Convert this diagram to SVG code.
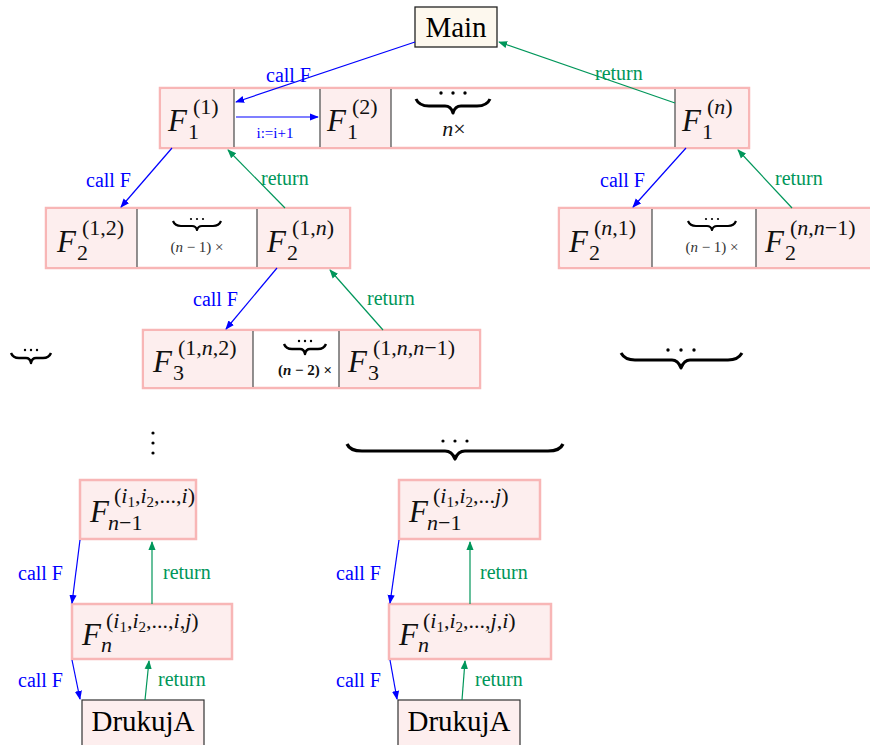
<svg xmlns="http://www.w3.org/2000/svg" width="870" height="745" viewBox="0 0 870 745">
<defs>
<marker id="ab" viewBox="0 0 10 10" refX="9" refY="5" markerWidth="9" markerHeight="9" markerUnits="userSpaceOnUse" orient="auto"><path d="M0,1 L10,5 L0,9 Z" fill="#0000ff"/></marker>
<marker id="ag" viewBox="0 0 10 10" refX="9" refY="5" markerWidth="9" markerHeight="9" markerUnits="userSpaceOnUse" orient="auto"><path d="M0,1 L10,5 L0,9 Z" fill="#00965a"/></marker>
</defs>
<style>
.outer{fill:#ffffff;stroke:#f8b6b6;stroke-width:2.5}
.cell{fill:#fdeeee;stroke:none}
.box{fill:#fdeeee;stroke:#f8b6b6;stroke-width:2.5}
.div{stroke:#555;stroke-width:1.3}
.F{font-family:"Liberation Serif",serif;font-style:italic;font-size:31px;fill:#111}
.sup{font-family:"Liberation Serif",serif;font-size:22px;fill:#111}
.sm{font-family:"Liberation Serif",serif;font-size:15px}
.it{font-style:italic}
.call{stroke:#0000ff;stroke-width:1.2;fill:none;marker-end:url(#ab)}
.ret{stroke:#00965a;stroke-width:1.2;fill:none;marker-end:url(#ag)}
.lb{font-family:"Liberation Serif",serif;font-size:20px;fill:#0000ff}
.lg{font-family:"Liberation Serif",serif;font-size:20px;fill:#00965a}
.inc{font-family:"Liberation Serif",serif;font-size:15px;fill:#0000ff}
.brace{fill:none;stroke:#000;stroke-width:2.6;stroke-linejoin:round}
.dot{fill:#000}
.big{font-family:"Liberation Serif",serif;font-size:29px;fill:#000}
.cnt{font-family:"Liberation Serif",serif;font-size:15px;fill:#333}
.cntb{font-family:"Liberation Serif",serif;font-size:15px;font-weight:bold;fill:#111}
</style>

<g id="main">
<rect x="415" y="7" width="82" height="40" fill="#fdf8ee" stroke="#222" stroke-width="1.3"/>
<text class="big" x="456" y="37" text-anchor="middle">Main</text>
</g>

<g id="row1">
<rect class="outer" x="160" y="88" width="589" height="60"/>
<rect class="cell" x="161.5" y="89.5" width="72.5" height="57"/>
<rect class="cell" x="320" y="89.5" width="71" height="57"/>
<rect class="cell" x="675" y="89.5" width="72.5" height="57"/>
<line class="div" x1="234" y1="89" x2="234" y2="147"/>
<line class="div" x1="320" y1="89" x2="320" y2="147"/>
<line class="div" x1="391" y1="89" x2="391" y2="147"/>
<line class="div" x1="675" y1="89" x2="675" y2="147"/>
<text class="F" x="168" y="131">F</text><text class="sup" x="193" y="114">(1)</text><text class="sup" x="188" y="139">1</text>
<text class="F" x="327" y="131">F</text><text class="sup" x="352" y="114">(2)</text><text class="sup" x="347" y="139">1</text>
<text class="F" x="682" y="131">F</text><text class="sup" x="707" y="114">(<tspan class="it">n</tspan>)</text><text class="sup" x="702" y="139">1</text>
<circle class="dot" cx="441" cy="93" r="1.7"/><circle class="dot" cx="453" cy="93" r="1.7"/><circle class="dot" cx="465" cy="93" r="1.7"/>
<path class="brace" style="stroke-width:3" d="M416,99 Q419,106 429,106 L445,106 Q451,106 453,113 Q455,106 461,106 L477,106 Q487,106 490,99"/>
<text class="sup" x="454" y="136" text-anchor="middle"><tspan class="it">n</tspan>×</text>
</g>

<g id="row2left">
<rect class="outer" x="46" y="208" width="304" height="60"/>
<rect class="cell" x="47.5" y="209.5" width="89.5" height="57"/>
<rect class="cell" x="257" y="209.5" width="91.5" height="57"/>
<line class="div" x1="137" y1="209" x2="137" y2="267"/>
<line class="div" x1="257" y1="209" x2="257" y2="267"/>
<text class="F" x="57" y="252">F</text><text class="sup" x="82" y="235">(1,2)</text><text class="sup" x="77" y="260">2</text>
<text class="F" x="267" y="252">F</text><text class="sup" x="292" y="235">(1,<tspan class="it">n</tspan>)</text><text class="sup" x="287" y="260">2</text>
<circle class="dot" cx="191" cy="219" r="1.1"/><circle class="dot" cx="197" cy="219" r="1.1"/><circle class="dot" cx="203" cy="219" r="1.1"/>
<path class="brace" style="stroke-width:2.2" d="M173,221 Q175,226 181,226 L192,226 Q196,226 197,230 Q198,226 202,226 L213,226 Q219,226 221,221"/>
<text class="cnt" x="197" y="252" text-anchor="middle">(<tspan class="it">n</tspan> − 1) ×</text>
</g>

<g id="row2right">
<rect class="outer" x="559" y="208" width="320" height="60"/>
<rect class="cell" x="560.5" y="209.5" width="91.5" height="57"/>
<rect class="cell" x="756" y="209.5" width="114" height="57"/>
<line class="div" x1="652" y1="209" x2="652" y2="267"/>
<line class="div" x1="756" y1="209" x2="756" y2="267"/>
<text class="F" x="569" y="252">F</text><text class="sup" x="594" y="235">(<tspan class="it">n</tspan>,1)</text><text class="sup" x="589" y="260">2</text>
<text class="F" x="765" y="252">F</text><text class="sup" x="790" y="235">(<tspan class="it">n</tspan>,<tspan class="it">n</tspan>−1)</text><text class="sup" x="785" y="260">2</text>
<circle class="dot" cx="706" cy="219" r="1.1"/><circle class="dot" cx="712" cy="219" r="1.1"/><circle class="dot" cx="718" cy="219" r="1.1"/>
<path class="brace" style="stroke-width:2.2" d="M688,221 Q690,226 696,226 L707,226 Q711,226 712,230 Q713,226 717,226 L728,226 Q734,226 736,221"/>
<text class="cnt" x="712" y="252" text-anchor="middle">(<tspan class="it">n</tspan> − 1) ×</text>
</g>

<g id="row3">
<rect class="outer" x="143" y="330" width="337" height="58"/>
<rect class="cell" x="144.5" y="331.5" width="108.5" height="55"/>
<rect class="cell" x="339" y="331.5" width="139.5" height="55"/>
<line class="div" x1="253" y1="331" x2="253" y2="387"/>
<line class="div" x1="339" y1="331" x2="339" y2="387"/>
<text class="F" x="153" y="372">F</text><text class="sup" x="178" y="355">(1,<tspan class="it">n</tspan>,2)</text><text class="sup" x="173" y="380">3</text>
<text class="F" x="348" y="372">F</text><text class="sup" x="373" y="355">(1,<tspan class="it">n</tspan>,<tspan class="it">n</tspan>−1)</text><text class="sup" x="368" y="380">3</text>
<circle class="dot" cx="299" cy="341" r="1.2"/><circle class="dot" cx="305" cy="341" r="1.2"/><circle class="dot" cx="311" cy="341" r="1.2"/>
<path class="brace" style="stroke-width:2.4" d="M284,344 Q286,349 292,349 L300,349 Q304,349 305,354 Q306,349 310,349 L318,349 Q324,349 326,344"/>
<text class="cntb" x="305" y="375" text-anchor="middle">(<tspan class="it">n</tspan> − 2) ×</text>
</g>

<g id="brace-left">
<circle class="dot" cx="25" cy="350" r="1.2"/><circle class="dot" cx="31" cy="350" r="1.2"/><circle class="dot" cx="37" cy="350" r="1.2"/>
<path class="brace" style="stroke-width:2.4" d="M11,353 Q13,358 19,358 L26,358 Q30,358 31,363 Q32,358 36,358 L43,358 Q49,358 51,353"/>
</g>
<g id="brace-right">
<circle class="dot" cx="668" cy="350" r="1.7"/><circle class="dot" cx="681" cy="350" r="1.7"/><circle class="dot" cx="694" cy="350" r="1.7"/>
<path class="brace" style="stroke-width:3" d="M621,353 Q625,360 635,360 L672,360 Q678,360 681,368 Q684,360 690,360 L728,360 Q738,360 742,353"/>
</g>
<g id="vdots">
<circle class="dot" cx="153" cy="433" r="1.6"/><circle class="dot" cx="153" cy="443" r="1.6"/><circle class="dot" cx="153" cy="453" r="1.6"/>
</g>
<g id="brace-big">
<circle class="dot" cx="443" cy="441" r="1.6"/><circle class="dot" cx="455" cy="441" r="1.6"/><circle class="dot" cx="467" cy="441" r="1.6"/>
<path class="brace" style="stroke-width:3.2" d="M347,444 Q350,451 362,451 L445,451 Q452,451 455,459 Q458,451 465,451 L548,451 Q560,451 563,444"/>
</g>

<g id="fn1-left">
<rect class="box" x="80" y="480" width="116" height="59"/>
<text class="F" x="90" y="522">F</text>
<text class="sup" x="114" y="503">(<tspan class="it">i</tspan><tspan class="sm" dy="4">1</tspan><tspan dy="-4">,</tspan><tspan class="it">i</tspan><tspan class="sm" dy="4">2</tspan><tspan dy="-4">,...,</tspan><tspan class="it">i</tspan>)</text>
<text class="sup" x="108" y="530"><tspan class="it">n</tspan>−1</text>
</g>
<g id="fn1-right">
<rect class="box" x="399" y="480" width="141" height="59"/>
<text class="F" x="409" y="522">F</text>
<text class="sup" x="433" y="503">(<tspan class="it">i</tspan><tspan class="sm" dy="4">1</tspan><tspan dy="-4">,</tspan><tspan class="it">i</tspan><tspan class="sm" dy="4">2</tspan><tspan dy="-4">,...</tspan><tspan class="it">j</tspan>)</text>
<text class="sup" x="427" y="530"><tspan class="it">n</tspan>−1</text>
</g>
<g id="fn-left">
<rect class="box" x="72" y="604" width="160" height="55"/>
<text class="F" x="82" y="645">F</text>
<text class="sup" x="106" y="628">(<tspan class="it">i</tspan><tspan class="sm" dy="4">1</tspan><tspan dy="-4">,</tspan><tspan class="it">i</tspan><tspan class="sm" dy="4">2</tspan><tspan dy="-4">,...,</tspan><tspan class="it">i</tspan>,<tspan class="it">j</tspan>)</text>
<text class="sup" x="101" y="652"><tspan class="it">n</tspan></text>
</g>
<g id="fn-right">
<rect class="box" x="389" y="604" width="162" height="55"/>
<text class="F" x="399" y="645">F</text>
<text class="sup" x="423" y="628">(<tspan class="it">i</tspan><tspan class="sm" dy="4">1</tspan><tspan dy="-4">,</tspan><tspan class="it">i</tspan><tspan class="sm" dy="4">2</tspan><tspan dy="-4">,...,</tspan><tspan class="it">j</tspan>,<tspan class="it">i</tspan>)</text>
<text class="sup" x="418" y="652"><tspan class="it">n</tspan></text>
</g>
<g id="drukuj-left">
<rect x="82" y="700" width="122" height="50" fill="#fdeeee" stroke="#333" stroke-width="1.2"/>
<text class="big" x="143" y="731" text-anchor="middle">DrukujA</text>
</g>
<g id="drukuj-right">
<rect x="398" y="700" width="122" height="50" fill="#fdeeee" stroke="#333" stroke-width="1.2"/>
<text class="big" x="459" y="731" text-anchor="middle">DrukujA</text>
</g>

<g id="connectors">
<line class="call" x1="415" y1="42" x2="236" y2="102"/>
<text class="lb" x="266" y="82">call F</text>
<line class="ret" x1="675" y1="103" x2="499" y2="42"/>
<text class="lg" x="595" y="80">return</text>
<line class="call" x1="236" y1="117" x2="318" y2="117"/>
<text class="inc" x="275" y="138" text-anchor="middle">i:=i+1</text>

<line class="call" x1="172" y1="148" x2="121" y2="207"/>
<text class="lb" x="86" y="187">call F</text>
<line class="ret" x1="285" y1="208" x2="228" y2="150"/>
<text class="lg" x="261" y="185">return</text>

<line class="call" x1="686" y1="148" x2="633" y2="207"/>
<text class="lb" x="600" y="187">call F</text>
<line class="ret" x1="792" y1="208" x2="738" y2="150"/>
<text class="lg" x="775" y="185">return</text>

<line class="call" x1="277" y1="268" x2="226" y2="329"/>
<text class="lb" x="193" y="306">call F</text>
<line class="ret" x1="383" y1="330" x2="330" y2="270"/>
<text class="lg" x="367" y="305">return</text>

<line class="call" x1="80" y1="540" x2="72" y2="603"/>
<text class="lb" x="18" y="580">call F</text>
<line class="ret" x1="152" y1="604" x2="152" y2="542"/>
<text class="lg" x="163" y="579">return</text>
<line class="call" x1="72" y1="660" x2="80" y2="699"/>
<text class="lb" x="18" y="687">call F</text>
<line class="ret" x1="145" y1="700" x2="149" y2="661"/>
<text class="lg" x="158" y="686">return</text>

<line class="call" x1="399" y1="540" x2="390" y2="603"/>
<text class="lb" x="336" y="580">call F</text>
<line class="ret" x1="470" y1="604" x2="470" y2="542"/>
<text class="lg" x="480" y="579">return</text>
<line class="call" x1="390" y1="660" x2="397" y2="699"/>
<text class="lb" x="336" y="687">call F</text>
<line class="ret" x1="462" y1="700" x2="465" y2="661"/>
<text class="lg" x="475" y="686">return</text>
</g>
</svg>
